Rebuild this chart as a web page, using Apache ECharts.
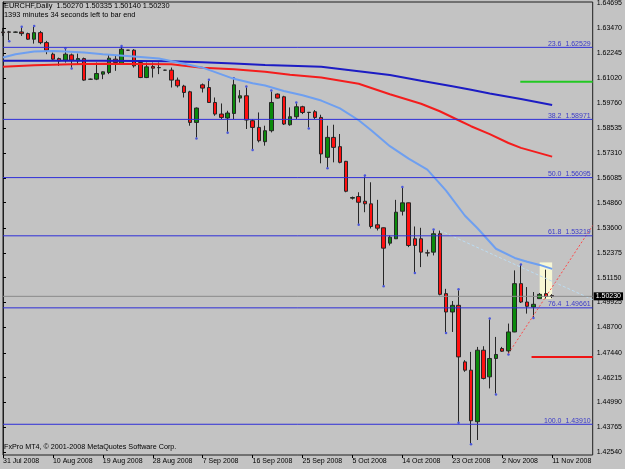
<!DOCTYPE html>
<html>
<head>
<meta charset="utf-8">
<title>EURCHF Daily</title>
<script src="https://cdn.jsdelivr.net/npm/echarts@6.0.0/dist/echarts.min.js"></script>
<style>
  html, body { margin: 0; padding: 0; background: #c3c3c3; }
  #chart { width: 625px; height: 469px; }
</style>
</head>
<body>
<div id="chart"></div>
<script>
// bar index of each date label, one label every 8 bars
var dateTicks = [0, 8, 16, 24, 32, 40, 48, 56, 64, 72, 80, 88];
var dateLabels = ['31 Jul 2008', '10 Aug 2008', '19 Aug 2008', '28 Aug 2008', '7 Sep 2008', '16 Sep 2008',
                  '25 Sep 2008', '5 Oct 2008', '14 Oct 2008', '23 Oct 2008', '2 Nov 2008', '11 Nov 2008'];

// price scale labels on the right
var priceTicks = [1.64695, 1.63470, 1.62245, 1.61020, 1.59760, 1.58535, 1.57310, 1.56085, 1.54860, 1.53600,
                  1.52375, 1.51150, 1.49925, 1.48700, 1.47440, 1.46215, 1.44990, 1.43765, 1.42540];

// daily bars: [open, high, low, close]
var ohlc = [
  [1.63290, 1.63488, 1.63093, 1.63256], [1.63290, 1.63340, 1.62881, 1.63280], [1.63275, 1.63310, 1.63250, 1.63285],
  [1.63290, 1.63502, 1.63093, 1.63207], [1.63207, 1.63256, 1.62900, 1.62931], [1.62931, 1.63537, 1.62714, 1.63256],
  [1.63256, 1.63340, 1.62684, 1.62763], [1.62763, 1.62847, 1.62191, 1.62389], [1.62191, 1.62270, 1.61896, 1.61945],
  [1.61975, 1.62024, 1.61615, 1.61861], [1.61896, 1.62438, 1.61777, 1.62191], [1.62157, 1.62221, 1.61531, 1.61896],
  [1.61861, 1.62221, 1.61699, 1.61975], [1.61975, 1.62024, 1.60875, 1.60910], [1.60959, 1.60990, 1.60930, 1.60950],
  [1.60959, 1.61777, 1.60910, 1.61235], [1.61206, 1.61340, 1.60959, 1.61319], [1.61285, 1.62191, 1.61206, 1.61994],
  [1.61945, 1.62108, 1.61368, 1.61777], [1.61699, 1.62551, 1.61690, 1.62438], [1.62389, 1.62400, 1.62375, 1.62385],
  [1.62389, 1.62438, 1.61531, 1.61615], [1.61777, 1.61790, 1.61009, 1.61038], [1.61038, 1.61777, 1.61009, 1.61565],
  [1.61580, 1.61777, 1.61038, 1.61501], [1.61531, 1.61777, 1.61206, 1.61525], [1.61403, 1.61420, 1.61385, 1.61400],
  [1.61403, 1.61531, 1.60545, 1.60910], [1.60910, 1.61038, 1.60545, 1.60629], [1.60614, 1.60678, 1.60052, 1.60299],
  [1.60333, 1.60383, 1.58658, 1.58820], [1.58820, 1.59560, 1.58081, 1.59530], [1.60678, 1.60742, 1.60299, 1.60516],
  [1.60545, 1.60875, 1.59790, 1.59806], [1.59806, 1.60052, 1.59150, 1.59234], [1.59234, 1.59757, 1.58988, 1.59067],
  [1.59037, 1.59397, 1.58362, 1.59284], [1.59264, 1.60959, 1.58988, 1.60678], [1.60023, 1.60417, 1.59806, 1.60136],
  [1.60136, 1.60545, 1.58495, 1.58939], [1.58904, 1.58988, 1.57509, 1.58574], [1.58574, 1.59313, 1.57835, 1.57918],
  [1.57869, 1.58658, 1.57672, 1.58411], [1.58411, 1.60348, 1.58327, 1.59806], [1.60220, 1.60250, 1.60003, 1.60023],
  [1.60087, 1.60136, 1.58692, 1.58741], [1.58707, 1.59560, 1.58658, 1.59101], [1.59101, 1.59757, 1.58988, 1.59594],
  [1.59594, 1.59643, 1.59234, 1.59313], [1.59313, 1.59330, 1.58574, 1.59320], [1.59348, 1.59431, 1.58988, 1.59067],
  [1.59067, 1.59200, 1.56800, 1.57263], [1.57095, 1.58658, 1.56602, 1.58081], [1.58081, 1.58707, 1.56849, 1.57588],
  [1.57623, 1.58249, 1.56800, 1.56849], [1.56898, 1.56920, 1.55370, 1.55420], [1.55080, 1.55158, 1.55010, 1.55110],
  [1.55158, 1.55370, 1.53813, 1.54877], [1.54927, 1.56144, 1.54385, 1.54799], [1.54799, 1.55863, 1.53581, 1.53680],
  [1.53764, 1.54996, 1.53483, 1.53596], [1.53616, 1.53630, 1.50772, 1.52610], [1.52857, 1.53236, 1.52743, 1.53153],
  [1.53074, 1.54996, 1.53060, 1.54385], [1.54434, 1.55587, 1.54222, 1.54848], [1.54848, 1.54860, 1.52660, 1.52743],
  [1.53074, 1.53680, 1.51428, 1.52743], [1.53074, 1.53616, 1.51674, 1.52413], [1.52380, 1.52532, 1.52201, 1.52370],
  [1.52413, 1.53483, 1.52250, 1.53320], [1.53320, 1.53483, 1.50279, 1.50328], [1.50363, 1.50600, 1.48470, 1.49456],
  [1.49456, 1.49998, 1.48470, 1.49786], [1.49786, 1.50526, 1.44035, 1.47238], [1.46992, 1.47076, 1.46499, 1.46583],
  [1.46583, 1.47485, 1.42970, 1.44084], [1.44035, 1.47731, 1.43133, 1.47568], [1.47568, 1.47766, 1.46125, 1.46174],
  [1.46253, 1.49082, 1.45681, 1.47159], [1.47159, 1.48224, 1.45434, 1.47357], [1.47652, 1.47731, 1.47485, 1.47519],
  [1.47534, 1.48884, 1.47406, 1.48470], [1.48470, 1.51511, 1.48460, 1.50856], [1.50856, 1.51758, 1.49899, 1.49949],
  [1.49949, 1.50688, 1.49377, 1.49737], [1.49703, 1.50442, 1.49210, 1.49836], [1.50117, 1.50393, 1.50117, 1.50328],
  [1.50363, 1.51546, 1.50117, 1.50230], [1.50270, 1.50335, 1.50140, 1.50230]
];

// moving averages: [bar, price]
var maFast = [[0, 1.62024], [2, 1.62191], [5, 1.62320], [8, 1.62354], [10, 1.62320], [13, 1.62270], [16, 1.62191],
  [21, 1.62073], [25, 1.61975], [29, 1.61723], [32, 1.61526], [37, 1.60974], [40, 1.60752], [42, 1.60644],
  [45, 1.60373], [48, 1.60166], [51, 1.59900], [54, 1.59515], [57, 1.58929], [59, 1.58436], [62, 1.57647],
  [65, 1.57031], [68, 1.56489], [71, 1.55454], [74, 1.54222], [76, 1.53606], [79, 1.52581], [82, 1.52127],
  [84, 1.51940], [86, 1.51782], [88, 1.51585]];
var maMid = [[0, 1.61565], [5, 1.61649], [11, 1.61699], [16, 1.61713], [27, 1.61689], [29, 1.61615], [32, 1.61516],
  [37, 1.61442], [42, 1.61319], [46, 1.61171], [51, 1.61038], [57, 1.60733], [62, 1.60210], [67, 1.59742],
  [70, 1.59372], [73, 1.58929], [75, 1.58633], [78, 1.58239], [81, 1.57805], [83, 1.57563], [88, 1.57130]];
var maSlow = [[0, 1.61861], [16, 1.61861], [27, 1.61837], [32, 1.61787], [37, 1.61728], [42, 1.61654], [46, 1.61615],
  [51, 1.61565], [57, 1.61354], [62, 1.61161], [67, 1.60875], [72, 1.60604], [75, 1.60432], [78, 1.60245],
  [83, 1.59974], [88, 1.59678]];

// fibonacci retracement
var fibLevels = [23.6, 38.2, 50.0, 61.8, 76.4, 100.0];
var fibPrices = [1.62529, 1.58971, 1.56095, 1.53219, 1.49661, 1.43910];

// other objects: [fromBar, fromPrice, toBar, toPrice]
var greenLevel = [82.9, 1.60826, 94.5, 1.60826];
var redLevel = [84.7, 1.47238, 94.5, 1.47238];
var trendHigh = [70, 1.53483, 94.5, 1.50067];
var trendLow = [81, 1.47406, 94.5, 1.53729];
var boxBars = [86, 88];
var boxPrices = [1.51906, 1.50100];

// fractal marks (bar indices)
var fractalUp = [3, 5, 10, 19, 33, 37, 39, 43, 47, 58, 64, 69, 73, 78, 83];
var fractalDown = [1, 11, 31, 36, 40, 49, 52, 57, 61, 66, 71, 73, 75, 79, 81, 85];

var lastPrice = 1.50230;
var title1 = 'EURCHF,Daily  1.50270 1.50335 1.50140 1.50230';
var title2 = '1393 minutes 34 seconds left to bar end';
var copyright = 'FxPro MT4, \u00a9 2001-2008 MetaQuotes Software Corp.';

var FONT = 'Liberation Sans';
var X_MAX = 94.5;
var FIB_COLOR = '#2e2ed8';

var candleData = ohlc.map(function (r, i) { return [i, r[0], r[3], r[2], r[1]]; });
var upData = fractalUp.map(function (i) { return [i, ohlc[i][1]]; });
var downData = fractalDown.map(function (i) { return [i, ohlc[i][2]]; });

function segment(s) {
  return [[s[0], s[1]], [s[2], s[3]]];
}

function objLine(name, data, style, z) {
  return {
    name: name, type: 'line', data: data, showSymbol: false, symbol: 'none',
    silent: true, clip: false, z: z || 3,
    lineStyle: style
  };
}

var fibSeries = fibLevels.map(function (lvl, k) {
  var s = objLine('fibo ' + lvl, [[0, fibPrices[k]], [X_MAX, fibPrices[k]]],
                  { color: FIB_COLOR, width: 1, type: 'solid' }, 4);
  s.endLabel = {
    show: true,
    formatter: lvl.toFixed(1) + '  ' + fibPrices[k].toFixed(5),
    align: 'right',
    verticalAlign: 'bottom',
    distance: 0,
    offset: [-2, 0],
    color: '#3a3ac8',
    fontFamily: FONT,
    fontSize: 7
  };
  return s;
});

var priceSeries = objLine('price', [[0, lastPrice], [X_MAX, lastPrice]],
                          { color: '#8a8a8a', width: 1, type: 'solid' }, 4);
priceSeries.endLabel = {
  show: true,
  formatter: lastPrice.toFixed(5),
  align: 'left',
  verticalAlign: 'middle',
  distance: 1,
  color: '#fff',
  backgroundColor: '#000',
  padding: [1, 2, 0, 2],
  fontFamily: FONT,
  fontSize: 7
};

var myChart = echarts.init(document.getElementById('chart'));
var option = {
  animation: false,
  backgroundColor: '#c3c3c3',
  grid: {
    left: 3, right: 31, top: 1, bottom: 14,
    show: true, borderColor: '#1e1e1e', borderWidth: 1
  },
  xAxis: {
    type: 'value',
    min: 0,
    max: X_MAX,
    splitLine: { show: false },
    axisLine: { show: false },
    axisTick: { show: true, customValues: dateTicks, length: 3, lineStyle: { color: '#000' } },
    axisLabel: {
      customValues: dateTicks,
      formatter: function (v) { return dateLabels[dateTicks.indexOf(v)] || ''; },
      align: 'left',
      margin: 3,
      color: '#000',
      fontFamily: FONT,
      fontSize: 7
    }
  },
  yAxis: {
    type: 'value',
    position: 'right',
    min: 1.42392,
    max: 1.64769,
    scale: true,
    splitLine: { show: false },
    axisLine: { show: true, lineStyle: { color: '#1e1e1e' } },
    axisTick: { show: true, customValues: priceTicks, length: 3, lineStyle: { color: '#000' } },
    axisLabel: {
      customValues: priceTicks,
      formatter: function (v) { return v.toFixed(5); },
      margin: 4,
      color: '#000',
      fontFamily: FONT,
      fontSize: 7
    }
  },
  graphic: [
    { type: 'text', left: 4, top: 2, style: { text: title1, fill: '#000', fontFamily: FONT, fontSize: 7.4 } },
    { type: 'text', left: 4, top: 11, style: { text: title2, fill: '#000', fontFamily: FONT, fontSize: 7.4 } },
    { type: 'text', left: 4, top: 444, style: { text: copyright, fill: '#000', fontFamily: FONT, fontSize: 7.2 } }
  ],
  series: [
    {
      // pale highlight box behind the last bars
      name: 'box',
      type: 'line',
      data: [],
      markArea: {
        silent: true,
        itemStyle: { color: '#f7f7d4' },
        data: [[{ coord: [boxBars[0], boxPrices[0]] }, { coord: [boxBars[1], boxPrices[1]] }]]
      }
    },
    {
      name: 'EURCHF',
      type: 'candlestick',
      data: candleData,
      encode: { x: 0, y: [1, 2, 3, 4] },
      barWidth: 4,
      z: 2,
      itemStyle: {
        color: '#0b8a0b',
        color0: '#ff1010',
        borderColor: '#262626',
        borderColor0: '#262626',
        borderWidth: 1
      }
    },
    {
      name: 'fractal up', type: 'scatter', data: upData,
      symbol: 'circle', symbolSize: 2.5, symbolOffset: [0, -1], itemStyle: { color: '#2c3ce0' }
    },
    {
      name: 'fractal down', type: 'scatter', data: downData,
      symbol: 'circle', symbolSize: 2.5, symbolOffset: [0, 1], itemStyle: { color: '#2c3ce0' }
    },
    {
      name: 'MA slow', type: 'line', data: maSlow, showSymbol: false, z: 3,
      lineStyle: { color: '#1c1cc4', width: 2 }
    },
    {
      name: 'MA mid', type: 'line', data: maMid, showSymbol: false, z: 3,
      lineStyle: { color: '#f41c1c', width: 2 }
    },
    {
      name: 'MA fast', type: 'line', data: maFast, showSymbol: false, z: 3,
      lineStyle: { color: '#6e9ff0', width: 2 }
    },
    objLine('green level', segment(greenLevel), { color: '#22c822', width: 2, type: 'solid' }),
    objLine('red level', segment(redLevel), { color: '#ee1414', width: 2, type: 'solid' }),
    objLine('trend high', segment(trendHigh), { color: '#bcdcf2', width: 1, type: [3, 2] }),
    objLine('trend low', segment(trendLow), { color: '#ff4848', width: 1, type: [2, 2] }),
    priceSeries
  ].concat(fibSeries)
};
myChart.setOption(option);
</script>
</body>
</html>
